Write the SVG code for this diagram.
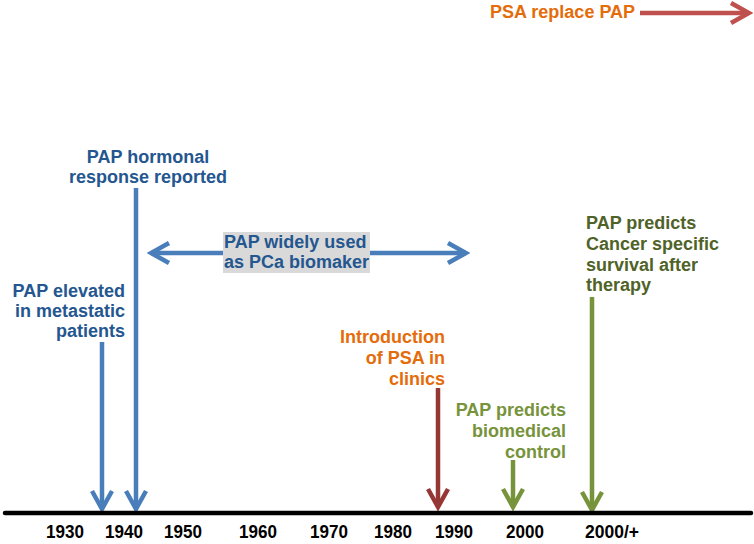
<svg xmlns="http://www.w3.org/2000/svg" width="754" height="544" viewBox="0 0 754 544">
  <style>
    text { font-family: "Liberation Sans", Arial, sans-serif; font-weight: bold; font-size: 18px; }
    .blue { fill: #24568f; }
    .orange { fill: #e46c0a; }
    .lgreen { fill: #77933c; }
    .dgreen { fill: #4f6228; }
    .year { fill: #000000; font-size: 19px; text-anchor: middle; }
    .shaft { fill: none; stroke-width: 4.5; }
  </style>
  <defs>
    <marker id="hBlue" markerUnits="userSpaceOnUse" viewBox="-22 -14 26 28" refX="0" refY="0" markerWidth="26" markerHeight="28" orient="auto-start-reverse">
      <path d="M-18,-10 L0,0 L-18,10" fill="none" stroke="#4a7ebb" stroke-width="4.5"/>
    </marker>
    <marker id="hRed" markerUnits="userSpaceOnUse" viewBox="-22 -14 26 28" refX="0" refY="0" markerWidth="26" markerHeight="28" orient="auto">
      <path d="M-18,-10 L0,0 L-18,10" fill="none" stroke="#953735" stroke-width="4.5"/>
    </marker>
    <marker id="hRed2" markerUnits="userSpaceOnUse" viewBox="-22 -14 26 28" refX="0" refY="0" markerWidth="26" markerHeight="28" orient="auto">
      <path d="M-18,-10 L0,0 L-18,10" fill="none" stroke="#c0504d" stroke-width="4.5"/>
    </marker>
    <marker id="hGreen" markerUnits="userSpaceOnUse" viewBox="-22 -14 26 28" refX="0" refY="0" markerWidth="26" markerHeight="28" orient="auto">
      <path d="M-18,-10 L0,0 L-18,10" fill="none" stroke="#77933c" stroke-width="4.5"/>
    </marker>
  </defs>
  <rect width="754" height="544" fill="#ffffff"/>

  <g id="connectors">
    <line class="shaft" x1="102" y1="342" x2="102" y2="509" stroke="#4a7ebb" marker-end="url(#hBlue)"/>
    <line class="shaft" x1="136" y1="188" x2="136" y2="509" stroke="#4a7ebb" marker-end="url(#hBlue)"/>
    <line class="shaft" x1="151" y1="253" x2="466" y2="253" stroke="#4a7ebb" marker-start="url(#hBlue)" marker-end="url(#hBlue)"/>
    <line class="shaft" x1="438" y1="388" x2="438" y2="507" stroke="#953735" marker-end="url(#hRed)"/>
    <line class="shaft" x1="513" y1="460" x2="513" y2="507" stroke="#77933c" marker-end="url(#hGreen)"/>
    <line class="shaft" x1="592" y1="297" x2="592" y2="510" stroke="#77933c" marker-end="url(#hGreen)"/>
    <line class="shaft" x1="640" y1="13" x2="749" y2="13" stroke="#c0504d" marker-end="url(#hRed2)"/>
  </g>

  <g id="axis">
    <line x1="5" y1="513" x2="751" y2="513" stroke="#000000" stroke-width="4.5" stroke-linecap="round"/>
    <text class="year" x="65" y="538" textLength="38" lengthAdjust="spacingAndGlyphs">1930</text>
    <text class="year" x="124" y="538" textLength="38" lengthAdjust="spacingAndGlyphs">1940</text>
    <text class="year" x="183" y="538" textLength="38" lengthAdjust="spacingAndGlyphs">1950</text>
    <text class="year" x="258" y="538" textLength="38" lengthAdjust="spacingAndGlyphs">1960</text>
    <text class="year" x="329" y="538" textLength="38" lengthAdjust="spacingAndGlyphs">1970</text>
    <text class="year" x="393" y="538" textLength="38" lengthAdjust="spacingAndGlyphs">1980</text>
    <text class="year" x="454" y="538" textLength="38" lengthAdjust="spacingAndGlyphs">1990</text>
    <text class="year" x="525" y="538" textLength="38" lengthAdjust="spacingAndGlyphs">2000</text>
    <text class="year" x="612" y="538" textLength="54" lengthAdjust="spacingAndGlyphs">2000/+</text>
  </g>

  <g id="node-pap-elevated">
    <text class="blue" text-anchor="end" x="125" y="297">PAP elevated</text>
    <text class="blue" text-anchor="end" x="125" y="317">in metastatic</text>
    <text class="blue" text-anchor="end" x="125" y="337">patients</text>
  </g>

  <g id="node-pap-hormonal">
    <text class="blue" text-anchor="middle" x="148" y="163">PAP hormonal</text>
    <text class="blue" text-anchor="middle" x="148" y="183">response reported</text>
  </g>

  <g id="node-pap-widely-used">
    <rect x="223" y="232" width="147" height="41" fill="#d9d9d9"/>
    <text class="blue" x="224" y="248">PAP widely used</text>
    <text class="blue" x="224" y="268">as PCa biomaker</text>
  </g>

  <g id="node-psa-intro">
    <text class="orange" text-anchor="end" x="445" y="343">Introduction</text>
    <text class="orange" text-anchor="end" x="445" y="364">of PSA in</text>
    <text class="orange" text-anchor="end" x="445" y="385">clinics</text>
  </g>

  <g id="node-pap-biomedical">
    <text class="lgreen" text-anchor="end" x="566" y="416">PAP predicts</text>
    <text class="lgreen" text-anchor="end" x="566" y="437">biomedical</text>
    <text class="lgreen" text-anchor="end" x="566" y="458">control</text>
  </g>

  <g id="node-pap-survival">
    <text class="dgreen" x="586" y="229">PAP predicts</text>
    <text class="dgreen" x="586" y="250">Cancer specific</text>
    <text class="dgreen" x="586" y="271">survival after</text>
    <text class="dgreen" x="586" y="291">therapy</text>
  </g>

  <g id="node-psa-replace">
    <text class="orange" x="490" y="18">PSA replace PAP</text>
  </g>
</svg>
